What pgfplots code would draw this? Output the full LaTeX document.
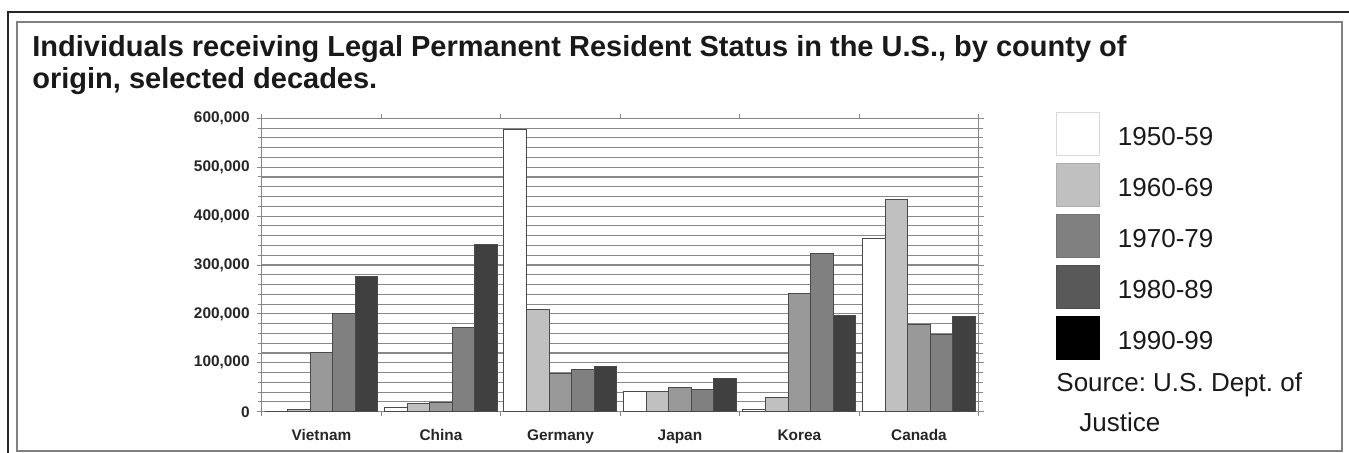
\documentclass[border=0pt]{standalone}
\usepackage{pgfplots}
\pgfplotsset{compat=1.18}
\usepackage{fontspec}
\setmainfont{Liberation Sans}
\frenchspacing
\definecolor{cA}{HTML}{FFFFFF}
\definecolor{cB}{HTML}{C0C0C0}
\definecolor{cC}{HTML}{999999}
\definecolor{cD}{HTML}{808080}
\definecolor{cE}{HTML}{404040}
\definecolor{lC}{HTML}{808080}
\definecolor{lD}{HTML}{595959}
\definecolor{lE}{HTML}{000000}
\definecolor{edge}{HTML}{4A4A4A}
\definecolor{gridc}{HTML}{888888}
\begin{document}
\begin{tikzpicture}
\path[use as bounding box] (0,0) rectangle (674.5pt,226pt);
\draw[black!85, line width=0.6pt] (4pt,-2pt) -- (4pt,220pt) -- (678pt,220pt);
\draw[gray, line width=0.75pt] (8.5pt,0.6pt) rectangle (671pt,215pt);
\node[anchor=base west, font=\bfseries\fontsize{14.5}{17}\selectfont, inner sep=0pt, text=black!90] at (16pt,197.6pt) {Individuals receiving Legal Permanent Resident Status in the U.S., by county of};
\node[anchor=base west, font=\bfseries\fontsize{14.5}{17}\selectfont, inner sep=0pt, text=black!90] at (16pt,181.6pt) {origin, selected decades.};
\node[anchor=base west, font=\fontsize{13}{15}\selectfont, inner sep=0pt, text=black!90] at (528pt,30.15pt) {Source: U.S. Dept. of};
\node[anchor=base west, font=\fontsize{13}{15}\selectfont, inner sep=0pt, text=black!90] at (539.5pt,10.15pt) {Justice};
\begin{axis}[
  at={(130.85pt,20.15pt)}, anchor=south west,
  scale only axis, width=358.5pt, height=146.7pt,
  ybar=0pt, bar width=11.3pt,
  xmin=-0.5, xmax=5.5, ymin=0, ymax=600000,
  enlargelimits=false,
  xtick={0,...,5},
  xticklabels={Vietnam,China,Germany,Japan,Korea,Canada},
  major x tick style={draw=none},
  minor xtick={-0.5,0.5,...,5.5},
  ytick={0,100000,...,600000},
  minor y tick num=4,
  ymajorgrids, yminorgrids,
  major grid style={gridc, line width=0.55pt},
  minor grid style={gridc, line width=0.55pt},
  tick align=outside,
  major tick length=2.5pt, minor tick length=2pt,
  tick style={gridc, line width=0.5pt},
  axis line style={gridc, line width=0.6pt},
  scaled y ticks=false,
  /pgf/number format/fixed,
  /pgf/number format/1000 sep={,},
  /pgf/number format/assume math mode=true,
  ticklabel style={font=\bfseries\fontsize{7.7}{9}\selectfont, text=black!85},
  xticklabel style={yshift=-3pt},
  legend image code/.code={\draw[#1] (0pt,-10.75pt) rectangle (21.5pt,10.75pt);},
  legend style={at={(1.1078,1.0225)}, anchor=north west, draw=none, fill=none,
    inner sep=0pt, outer sep=0pt, row sep=3.5pt, column sep=9pt,
    nodes={inner sep=0pt, font=\fontsize{13}{15}\selectfont, text=black!90}},
  legend cell align=left,
]
\addplot[forget plot, fill=cA, draw=edge, line width=0.5pt, bar shift=-22.6pt] coordinates {(0,0) (1,8000) (2,577000) (3,41000) (4,5000) (5,354000)};
\addplot[forget plot, fill=cB, draw=edge, line width=0.5pt, bar shift=-11.3pt] coordinates {(0,4000) (1,16000) (2,209000) (3,41000) (4,30000) (5,434000)};
\addplot[forget plot, fill=cC, draw=edge, line width=0.5pt, bar shift=0pt] coordinates {(0,122000) (1,19000) (2,78000) (3,49000) (4,241000) (5,179000)};
\addplot[forget plot, fill=cD, draw=edge, line width=0.5pt, bar shift=11.3pt] coordinates {(0,200000) (1,172000) (2,87000) (3,46000) (4,323000) (5,157000)};
\addplot[forget plot, fill=cE, draw=edge, line width=0.5pt, bar shift=22.6pt] coordinates {(0,276000) (1,342000) (2,93000) (3,67000) (4,197000) (5,194000)};
\addlegendimage{fill=white, draw=black!15, line width=0.5pt}
\addlegendentry{\raisebox{-4.5pt}{1950-59}}
\addlegendimage{fill=cB, draw=cB!90!black, line width=0.5pt}
\addlegendentry{\raisebox{-4.5pt}{1960-69}}
\addlegendimage{fill=lC, draw=lC!90!black, line width=0.5pt}
\addlegendentry{\raisebox{-4.5pt}{1970-79}}
\addlegendimage{fill=lD, draw=lD!90!black, line width=0.5pt}
\addlegendentry{\raisebox{-4.5pt}{1980-89}}
\addlegendimage{fill=lE, draw=lE, line width=0.5pt}
\addlegendentry{\raisebox{-4.5pt}{1990-99}}
\end{axis}
\end{tikzpicture}
\end{document}
